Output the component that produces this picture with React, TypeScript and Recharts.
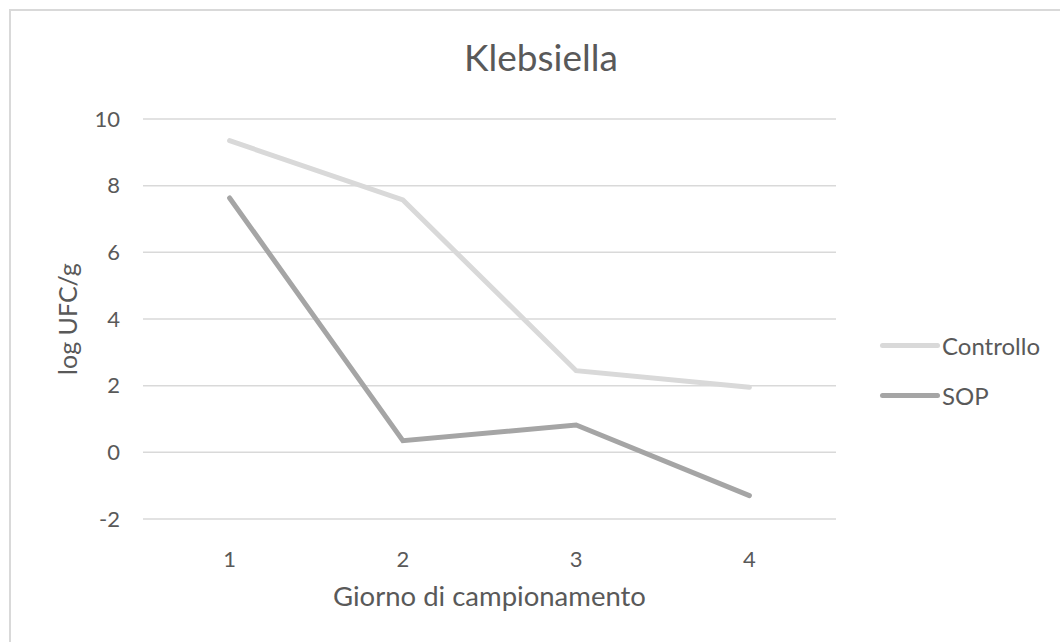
import { LineChart, Line, XAxis, YAxis, CartesianGrid, Legend, Label } from "recharts";

const giorni = ["1", "2", "3", "4"];
const controllo = [9.35, 7.57, 2.45, 1.95];
const sop = [7.63, 0.35, 0.82, -1.3];
const yTicks = [-2, 0, 2, 4, 6, 8, 10];

const data = giorni.map((g, i) => ({ giorno: g, Controllo: controllo[i], SOP: sop[i] }));

const FONT = "Lato, 'Open Sans', sans-serif";
const TEXT = "#595959";

const renderLegend = (props: any) => {
  const { payload } = props;
  return (
    <div style={{ fontFamily: FONT, fontSize: 24, color: TEXT }}>
      {payload.map((entry: any) => (
        <div key={entry.value} style={{ display: "flex", alignItems: "center", height: 50 }}>
          <span
            style={{
              display: "inline-block",
              width: 60,
              height: 5,
              borderRadius: 3,
              background: entry.color,
              marginRight: 2,
            }}
          />
          <span>{entry.value}</span>
        </div>
      ))}
    </div>
  );
};

export default function App() {
  return (
    <div style={{ position: "absolute", left: 0, top: 0, width: 1060, height: 642, background: "#fff", overflow: "hidden" }}>
      <div
        style={{
          position: "absolute",
          left: 9,
          top: 9,
          width: 1100,
          height: 700,
          border: "2px solid #d9d9d9",
          boxSizing: "border-box",
        }}
      />
      <div
        style={{
          position: "absolute",
          left: 0,
          width: 1082,
          top: 34,
          textAlign: "center",
          fontFamily: FONT,
          fontSize: 37,
          color: TEXT,
        }}
      >
        Klebsiella
      </div>
      <div style={{ position: "absolute", left: 0, top: 0 }}>
        <LineChart width={1060} height={642} data={data} margin={{ top: 119, right: 44, bottom: 0, left: 0 }}>
          <CartesianGrid vertical={false} stroke="#d9d9d9" strokeWidth={1.5} />
          <XAxis
            dataKey="giorno"
            height={123}
            padding={{ left: 86.6, right: 86.6 }}
            tickLine={false}
            axisLine={false}
            tickSize={0}
            tickMargin={32}
            tick={{ fill: TEXT, fontSize: 22, fontFamily: FONT }}
          >
            <Label
              value="Giorno di campionamento"
              position="insideTop"
              offset={67}
              style={{ fill: TEXT, fontSize: 27.5, fontFamily: FONT }}
            />
          </XAxis>
          <YAxis
            width={143}
            domain={[-2, 10]}
            ticks={yTicks}
            interval={0}
            tickLine={false}
            axisLine={false}
            tickSize={0}
            tickMargin={23}
            tick={{ fill: TEXT, fontSize: 22, fontFamily: FONT }}
          >
            <Label
              value="log UFC/g"
              angle={-90}
              position="insideLeft"
              offset={68}
              style={{ fill: TEXT, fontSize: 25, fontFamily: FONT, textAnchor: "middle" }}
            />
          </YAxis>
          <Legend
            layout="vertical"
            align="right"
            verticalAlign="top"
            content={renderLegend}
            wrapperStyle={{ left: 880, top: 320, width: 180 }}
          />
          <Line
            type="linear"
            dataKey="Controllo"
            stroke="#d9d9d9"
            strokeWidth={5}
            strokeLinecap="round"
            dot={false}
            activeDot={false}
            isAnimationActive={false}
          />
          <Line
            type="linear"
            dataKey="SOP"
            stroke="#a5a5a5"
            strokeWidth={5}
            strokeLinecap="round"
            dot={false}
            activeDot={false}
            isAnimationActive={false}
          />
        </LineChart>
      </div>
    </div>
  );
}
